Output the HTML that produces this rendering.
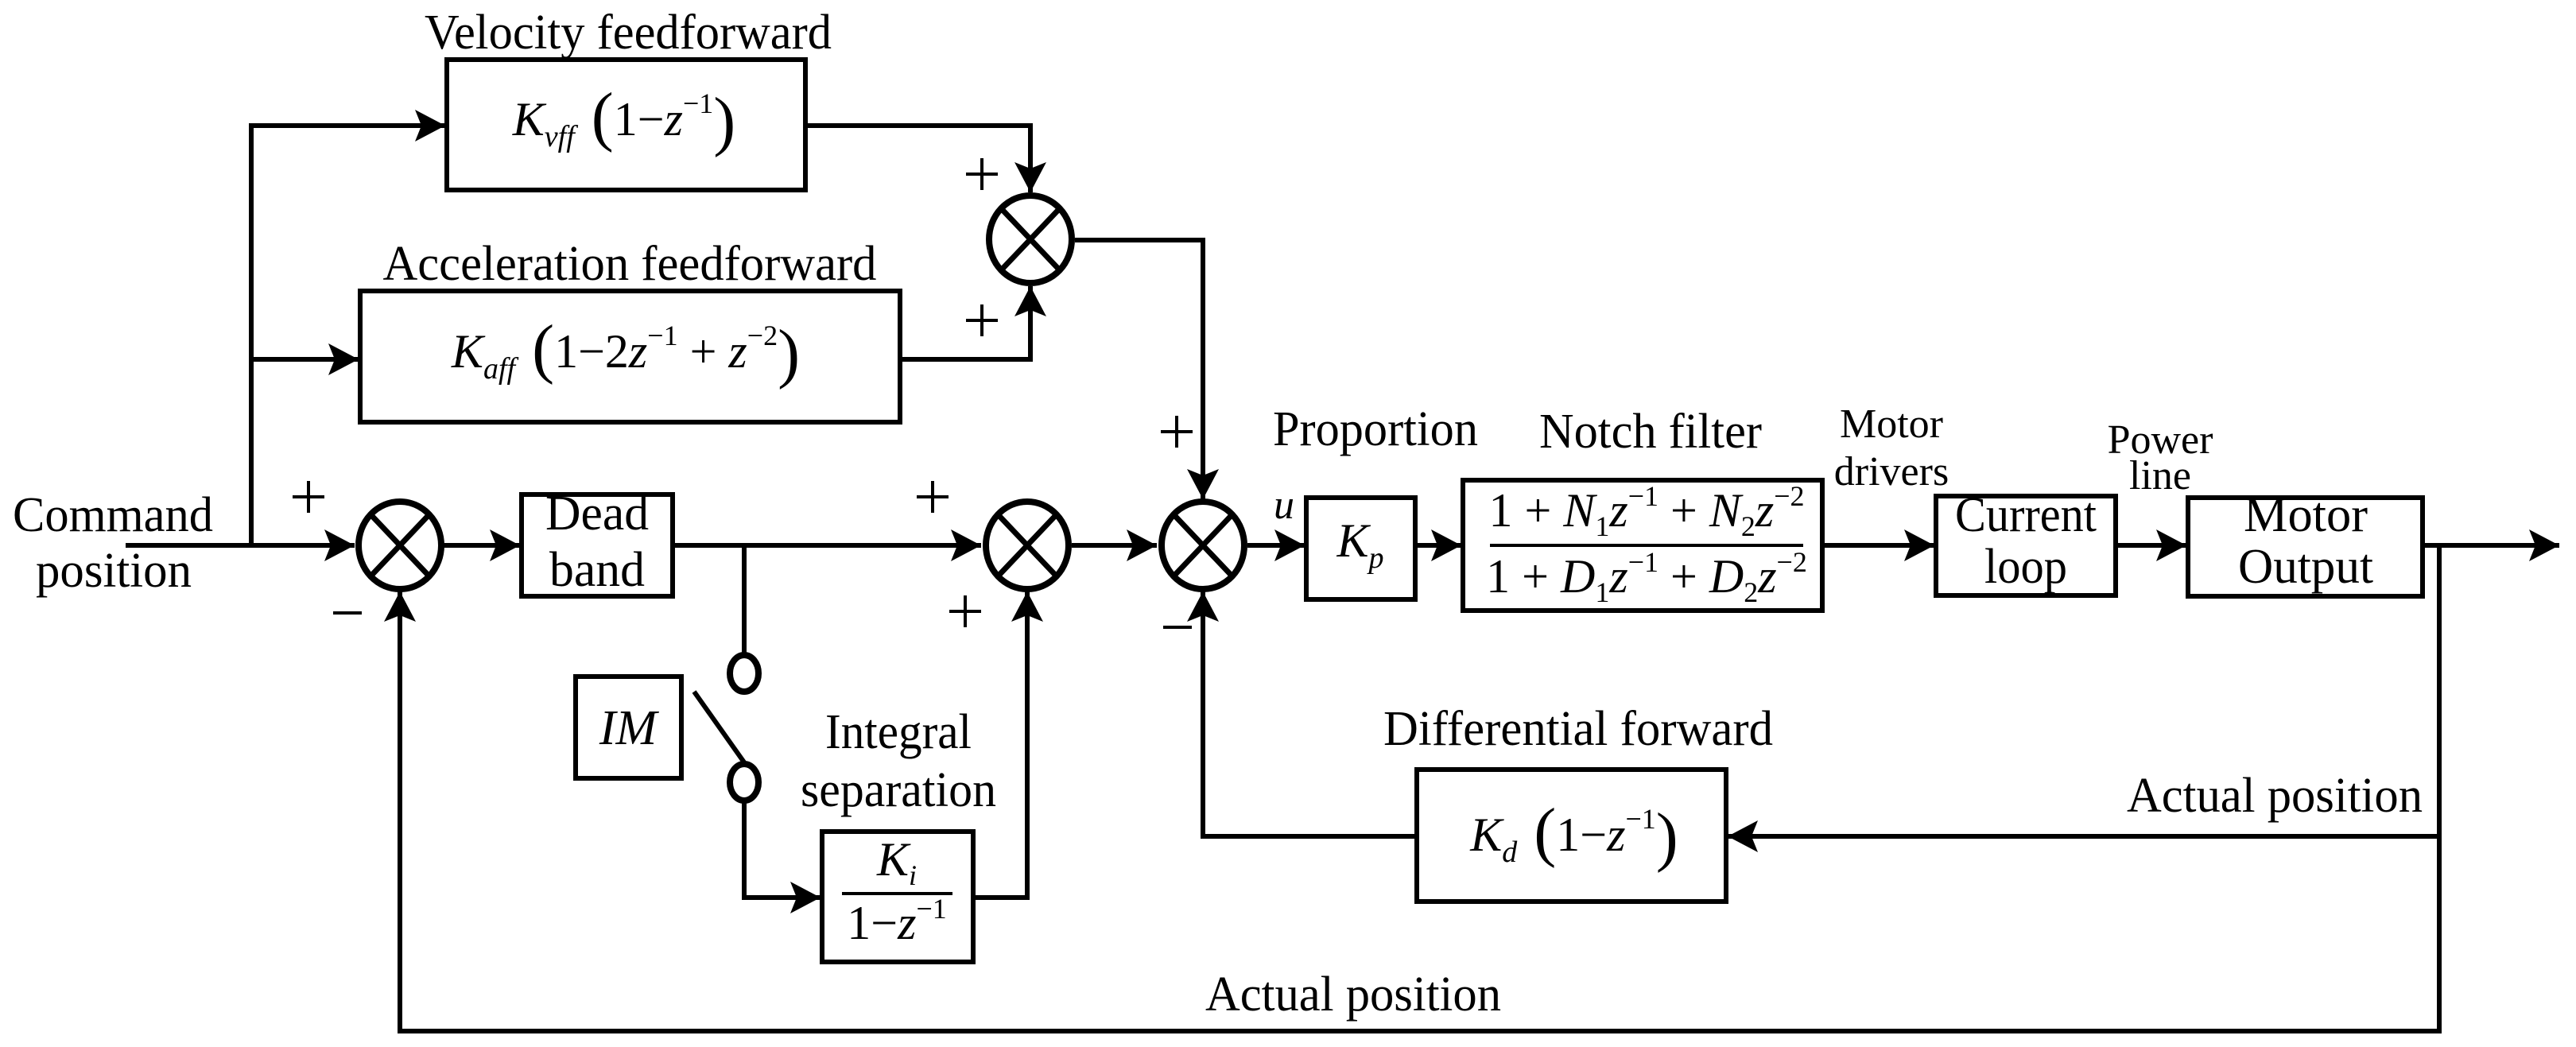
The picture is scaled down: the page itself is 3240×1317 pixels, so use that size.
<!DOCTYPE html>
<html><head><meta charset="utf-8"><style>
html,body{margin:0;padding:0;background:#fff}
svg{display:block}
text{font-family:"Liberation Serif","DejaVu Serif",serif;fill:#000}
.i{font-style:italic}
</style></head><body>
<svg width="3240" height="1317" viewBox="0 0 3240 1317" xmlns="http://www.w3.org/2000/svg">
<defs>
<marker id="a" markerUnits="userSpaceOnUse" markerWidth="42" markerHeight="44" refX="38" refY="20" orient="auto">
<path d="M0,0 L38,20 L0,40 L8,20 Z" fill="#000"/>
</marker>
</defs>
<g fill="none" stroke="#000" stroke-width="6" stroke-linejoin="miter">
<rect x="562" y="75" width="451" height="164"/>
<rect x="453" y="366" width="679" height="165"/>
<rect x="656" y="622" width="190" height="128"/>
<rect x="724" y="851" width="133" height="128"/>
<rect x="1034" y="1046" width="190" height="164"/>
<rect x="1643" y="626" width="137" height="128"/>
<rect x="1840" y="604" width="452" height="164"/>
<rect x="2435" y="624" width="226" height="125"/>
<rect x="2752" y="626" width="295" height="124"/>
<rect x="1782" y="968" width="389" height="166"/>
<path d="M158,686 H446" marker-end="url(#a)"/>
<path d="M316,686 V158 H560" marker-end="url(#a)"/>
<path d="M316,452 H451" marker-end="url(#a)"/>
<path d="M1013,158 H1296 V242" marker-end="url(#a)"/>
<path d="M1132,452 H1296 V360" marker-end="url(#a)"/>
<path d="M1352,302 H1513 V628" marker-end="url(#a)"/>
<path d="M558,686 H654" marker-end="url(#a)"/>
<path d="M846,686 H1234" marker-end="url(#a)"/>
<path d="M936,686 V822"/>
<path d="M873,870 L936,959"/>
<path d="M936,1009 V1129 H1032" marker-end="url(#a)"/>
<path d="M1224,1129 H1292 V744" marker-end="url(#a)"/>
<path d="M1348,686 H1455" marker-end="url(#a)"/>
<path d="M1569,686 H1641" marker-end="url(#a)"/>
<path d="M1780,686 H1838" marker-end="url(#a)"/>
<path d="M2292,686 H2433" marker-end="url(#a)"/>
<path d="M2661,686 H2750" marker-end="url(#a)"/>
<path d="M3047,686 H3219" marker-end="url(#a)"/>
<path d="M3068,686 V1297 H503 V744" marker-end="url(#a)"/>
<path d="M3068,1052 H2173" marker-end="url(#a)"/>
<path d="M1782,1052 H1513 V744" marker-end="url(#a)"/>
<path d="M1874,686 H2268" stroke-width="4"/>
<path d="M1059,1124 H1198" stroke-width="4"/>
</g>
<g fill="none" stroke="#000" stroke-width="4">
<path d="M1215,219 h40 M1235,199 v40"/>
<path d="M1215,403 h40 M1235,383 v40"/>
<path d="M1460,543 h40 M1480,523 v40"/>
<path d="M1153,625 h40 M1173,605 v40"/>
<path d="M368,625 h40 M388,605 v40"/>
<path d="M1194,769 h40 M1214,749 v40"/>
<path d="M419,771 h36"/>
<path d="M1463,789 h36"/>
</g>
<g fill="#fff" stroke="#000" stroke-width="8">
<ellipse cx="1296" cy="301" rx="52" ry="55"/>
<ellipse cx="503" cy="686" rx="52" ry="55"/>
<ellipse cx="1292" cy="686" rx="52" ry="55"/>
<ellipse cx="1513" cy="686" rx="52" ry="55"/>
<ellipse cx="936" cy="847" rx="18" ry="23"/>
<ellipse cx="936" cy="984" rx="18" ry="23"/>
</g>
<g stroke="#000" stroke-width="7">
<path d="M1259,262 L1333,340 M1333,262 L1259,340"/>
<path d="M466,647 L540,725 M540,647 L466,725"/>
<path d="M1255,647 L1329,725 M1329,647 L1255,725"/>
<path d="M1476,647 L1550,725 M1550,647 L1476,725"/>
</g>
<g font-size="62">
<text x="790" y="61" text-anchor="middle" textLength="512" lengthAdjust="spacingAndGlyphs">Velocity feedforward</text>
<text x="792" y="352" text-anchor="middle" textLength="621" lengthAdjust="spacingAndGlyphs">Acceleration feedforward</text>
<text x="16" y="668" textLength="252" lengthAdjust="spacingAndGlyphs">Command</text>
<text x="45" y="738" textLength="196" lengthAdjust="spacingAndGlyphs">position</text>
<text x="751" y="666" text-anchor="middle" textLength="130" lengthAdjust="spacingAndGlyphs">Dead</text>
<text x="751" y="737" text-anchor="middle" textLength="120" lengthAdjust="spacingAndGlyphs">band</text>
<text x="1130" y="941" text-anchor="middle" textLength="184" lengthAdjust="spacingAndGlyphs">Integral</text>
<text x="1130" y="1014" text-anchor="middle" textLength="246" lengthAdjust="spacingAndGlyphs">separation</text>
<text x="1730" y="560" text-anchor="middle" textLength="258" lengthAdjust="spacingAndGlyphs">Proportion</text>
<text x="2076" y="563" text-anchor="middle" textLength="280" lengthAdjust="spacingAndGlyphs">Notch filter</text>
<text x="2548" y="668" text-anchor="middle" textLength="178" lengthAdjust="spacingAndGlyphs">Current</text>
<text x="2548" y="733" text-anchor="middle" textLength="104" lengthAdjust="spacingAndGlyphs">loop</text>
<text x="2900" y="668" text-anchor="middle" textLength="156" lengthAdjust="spacingAndGlyphs">Motor</text>
<text x="2900" y="733" text-anchor="middle" textLength="170" lengthAdjust="spacingAndGlyphs">Output</text>
<text x="1985" y="937" text-anchor="middle" textLength="490" lengthAdjust="spacingAndGlyphs">Differential forward</text>
<text x="2861" y="1021" text-anchor="middle" textLength="372" lengthAdjust="spacingAndGlyphs">Actual position</text>
<text x="1702" y="1271" text-anchor="middle" textLength="372" lengthAdjust="spacingAndGlyphs">Actual position</text>
</g>
<g font-size="52">
<text x="2379" y="550" text-anchor="middle">Motor</text>
<text x="2379" y="610" text-anchor="middle">drivers</text>
<text x="2717" y="570" text-anchor="middle">Power</text>
<text x="2717" y="615" text-anchor="middle">line</text>
</g>
<text x="1602" y="652" font-size="52" class="i">u</text>
<text x="790" y="936" font-size="62" class="i" text-anchor="middle">IM</text>
<g font-size="60">
<text x="785" y="170" text-anchor="middle"><tspan class="i">K</tspan><tspan class="i" font-size="38" dy="14">vff</tspan><tspan font-size="84" dy="-10"> (</tspan><tspan dy="-4">1−</tspan><tspan class="i">z</tspan><tspan font-size="36" dy="-28">−1</tspan><tspan font-size="84" dy="38">)</tspan></text>
<text x="787" y="462" text-anchor="middle"><tspan class="i">K</tspan><tspan class="i" font-size="38" dy="14">aff</tspan><tspan font-size="84" dy="-10"> (</tspan><tspan dy="-4">1−2</tspan><tspan class="i">z</tspan><tspan font-size="36" dy="-28">−1</tspan><tspan dy="28"> + </tspan><tspan class="i">z</tspan><tspan font-size="36" dy="-28">−2</tspan><tspan font-size="84" dy="38">)</tspan></text>
<text x="1711" y="700" text-anchor="middle"><tspan class="i">K</tspan><tspan class="i" font-size="38" dy="14">p</tspan></text>
<text x="1980" y="1070" text-anchor="middle"><tspan class="i">K</tspan><tspan class="i" font-size="38" dy="14">d</tspan><tspan font-size="84" dy="-10"> (</tspan><tspan dy="-4">1−</tspan><tspan class="i">z</tspan><tspan font-size="36" dy="-28">−1</tspan><tspan font-size="84" dy="38">)</tspan></text>
<text x="2071" y="662" text-anchor="middle">1 + <tspan class="i">N</tspan><tspan font-size="36" dy="12">1</tspan><tspan class="i" dy="-12">z</tspan><tspan font-size="36" dy="-26">−1</tspan><tspan dy="26"> + </tspan><tspan class="i">N</tspan><tspan font-size="36" dy="12">2</tspan><tspan class="i" dy="-12">z</tspan><tspan font-size="36" dy="-26">−2</tspan></text>
<text x="2071" y="745" text-anchor="middle">1 + <tspan class="i">D</tspan><tspan font-size="36" dy="12">1</tspan><tspan class="i" dy="-12">z</tspan><tspan font-size="36" dy="-26">−1</tspan><tspan dy="26"> + </tspan><tspan class="i">D</tspan><tspan font-size="36" dy="12">2</tspan><tspan class="i" dy="-12">z</tspan><tspan font-size="36" dy="-26">−2</tspan></text>
<text x="1128" y="1101" text-anchor="middle"><tspan class="i">K</tspan><tspan class="i" font-size="36" dy="12">i</tspan></text>
<text x="1128" y="1181" text-anchor="middle">1−<tspan class="i">z</tspan><tspan font-size="36" dy="-26">−1</tspan></text>
</g>
</svg>
</body></html>
